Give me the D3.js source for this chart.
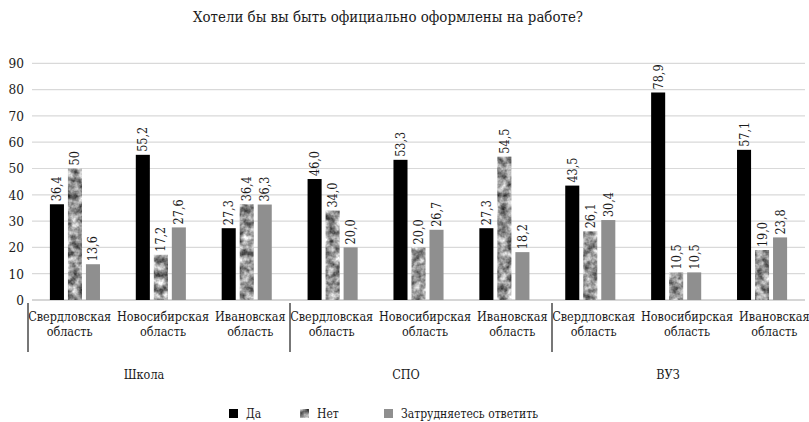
<!DOCTYPE html>
<html><head><meta charset="utf-8">
<script src="https://cdn.jsdelivr.net/npm/d3@7"></script>
<style>body{margin:0;background:#fff}svg{display:block}text{font-family:"DejaVu Serif Condensed","DejaVu Serif",serif;font-stretch:condensed;fill:#1a1a1a}</style>
</head><body>
<svg id="c" width="809" height="422"></svg>
<script>
const title = "Хотели бы вы быть официально оформлены на работе?";
const groups = ["Школа", "СПО", "ВУЗ"];
const regions = ["Свердловская область", "Новосибирская область", "Ивановская область"];
const seriesNames = ["Да", "Нет", "Затрудняетесь ответить"];
const da =   [36.4, 55.2, 27.3, 46.0, 53.3, 27.3, 43.5, 78.9, 57.1];
const net =  [50,   17.2, 36.4, 34.0, 20.0, 54.5, 26.1, 10.5, 19.0];
const zatr = [13.6, 27.6, 36.3, 20.0, 26.7, 18.2, 30.4, 10.5, 23.8];
const labelsDa =   ["36,4","55,2","27,3","46,0","53,3","27,3","43,5","78,9","57,1"];
const labelsNet =  ["50","17,2","36,4","34,0","20,0","54,5","26,1","10,5","19,0"];
const labelsZatr = ["13,6","27,6","36,3","20,0","26,7","18,2","30,4","10,5","23,8"];
const yTicks = [0,10,20,30,40,50,60,70,80,90];

const svg = d3.select("#c");
const defs = svg.append("defs");
const f = defs.append("filter").attr("id","granite").attr("x",0).attr("y",0).attr("width",1).attr("height",1)
  .attr("color-interpolation-filters","sRGB");
f.append("feTurbulence").attr("type","fractalNoise").attr("baseFrequency",0.14).attr("numOctaves",3).attr("seed",7).attr("result","n");
f.append("feColorMatrix").attr("in","n").attr("type","matrix")
 .attr("values","1.2 0 0 0 -0.02  1.2 0 0 0 -0.02  1.2 0 0 0 -0.02  0 0 0 0 1").attr("result","g");
f.append("feComposite").attr("in","g").attr("in2","SourceGraphic").attr("operator","in");

const cats = d3.range(da.length);
const x = d3.scaleBand().domain(cats).range([32, 805]).paddingInner(0).paddingOuter(0);
const xl = d3.scaleBand().domain(cats).range([28, 814]);
const xs = d3.scaleBand().domain([0,1,2]).range([0, 58]).paddingInner(0.22).paddingOuter(0.22);
const y = d3.scaleLinear().domain([0, 90]).range([300, 63.3]);
const gx = d3.scaleBand().domain(groups).range([28, 814]);

svg.append("text").attr("x", 388).attr("y", 22).attr("text-anchor","middle").attr("font-size",14.9).text(title);

// grid
svg.append("g").selectAll("line").data(yTicks.filter(d=>d>0)).join("line")
  .attr("x1", 32).attr("x2", 805).attr("y1", d=>y(d)).attr("y2", d=>y(d))
  .attr("stroke","#d9d9d9").attr("stroke-width",1.2);
svg.append("line").attr("x1",32).attr("x2",805).attr("y1",y(0)).attr("y2",y(0)).attr("stroke","#c8c8c8").attr("stroke-width",1.4);

// y axis labels
const yAxis = d3.axisLeft(y).tickValues(yTicks).tickSize(0).tickPadding(8);
const ya = svg.append("g").attr("transform","translate(32,0)").call(yAxis);
ya.select(".domain").remove();
ya.selectAll("text").attr("font-size",13.5).attr("font-family",null).attr("fill","#1a1a1a");

const series = [
  {vals: da, labels: labelsDa, fill: "#000000"},
  {vals: net, labels: labelsNet, fill: "url(#granite)"},
  {vals: zatr, labels: labelsZatr, fill: "#8f8f8f"}
];
series.forEach((s, si) => {
  const g = svg.append("g");
  g.selectAll("rect").data(s.vals).join("rect")
    .attr("x", (d,i) => x(i) + x.bandwidth()/2 - 29 + xs(si))
    .attr("width", xs.bandwidth())
    .attr("y", d => y(d)).attr("height", d => y(0) - y(d))
    .attr("fill", si === 1 ? "#999" : s.fill)
    .attr("filter", si === 1 ? "url(#granite)" : null);
  g.selectAll("text").data(s.vals).join("text")
    .attr("transform", (d,i) => `translate(${x(i) + x.bandwidth()/2 - 29 + xs(si) + xs.bandwidth()/2 + 4.5},${y(d) - 3}) rotate(-90)`)
    .attr("font-size", 12.5).attr("text-anchor","start")
    .text((d,i) => s.labels[i]);
});

// category labels
const cl = svg.append("g");
cats.forEach(i => {
  const parts = regions[i % 3].split(" ");
  const cx = xl(i) + xl.bandwidth()/2 + (i % 3 === 0 ? -2 : 4);
  const t = cl.append("text").attr("text-anchor","middle").attr("font-size",12.5);
  t.append("tspan").attr("x", cx).attr("y", 321).text(parts[0]);
  t.append("tspan").attr("x", cx).attr("y", 336).text(parts[1]);
});
// dividers
svg.append("g").selectAll("line").data(groups).join("line")
  .attr("x1", d=>gx(d)).attr("x2", d=>gx(d)).attr("y1", 303).attr("y2", 352)
  .attr("stroke","#555").attr("stroke-width",1.6);
// group labels
svg.append("g").selectAll("text").data(groups).join("text")
  .attr("x", d=>gx(d)+gx.bandwidth()/2 - 15).attr("y", 379).attr("text-anchor","middle").attr("font-size",12.5).text(d=>d);

// legend
const lg = svg.append("g");
const lx = [229, 300, 384];
seriesNames.forEach((n, i) => {
  lg.append("rect").attr("x", lx[i]).attr("y", 409).attr("width", 9).attr("height", 9)
    .attr("fill", i === 1 ? "#999" : series[i].fill).attr("filter", i === 1 ? "url(#granite)" : null);
  lg.append("text").attr("x", lx[i] + 17).attr("y", 418).attr("font-size", 12).text(n);
});
</script>
</body></html>
